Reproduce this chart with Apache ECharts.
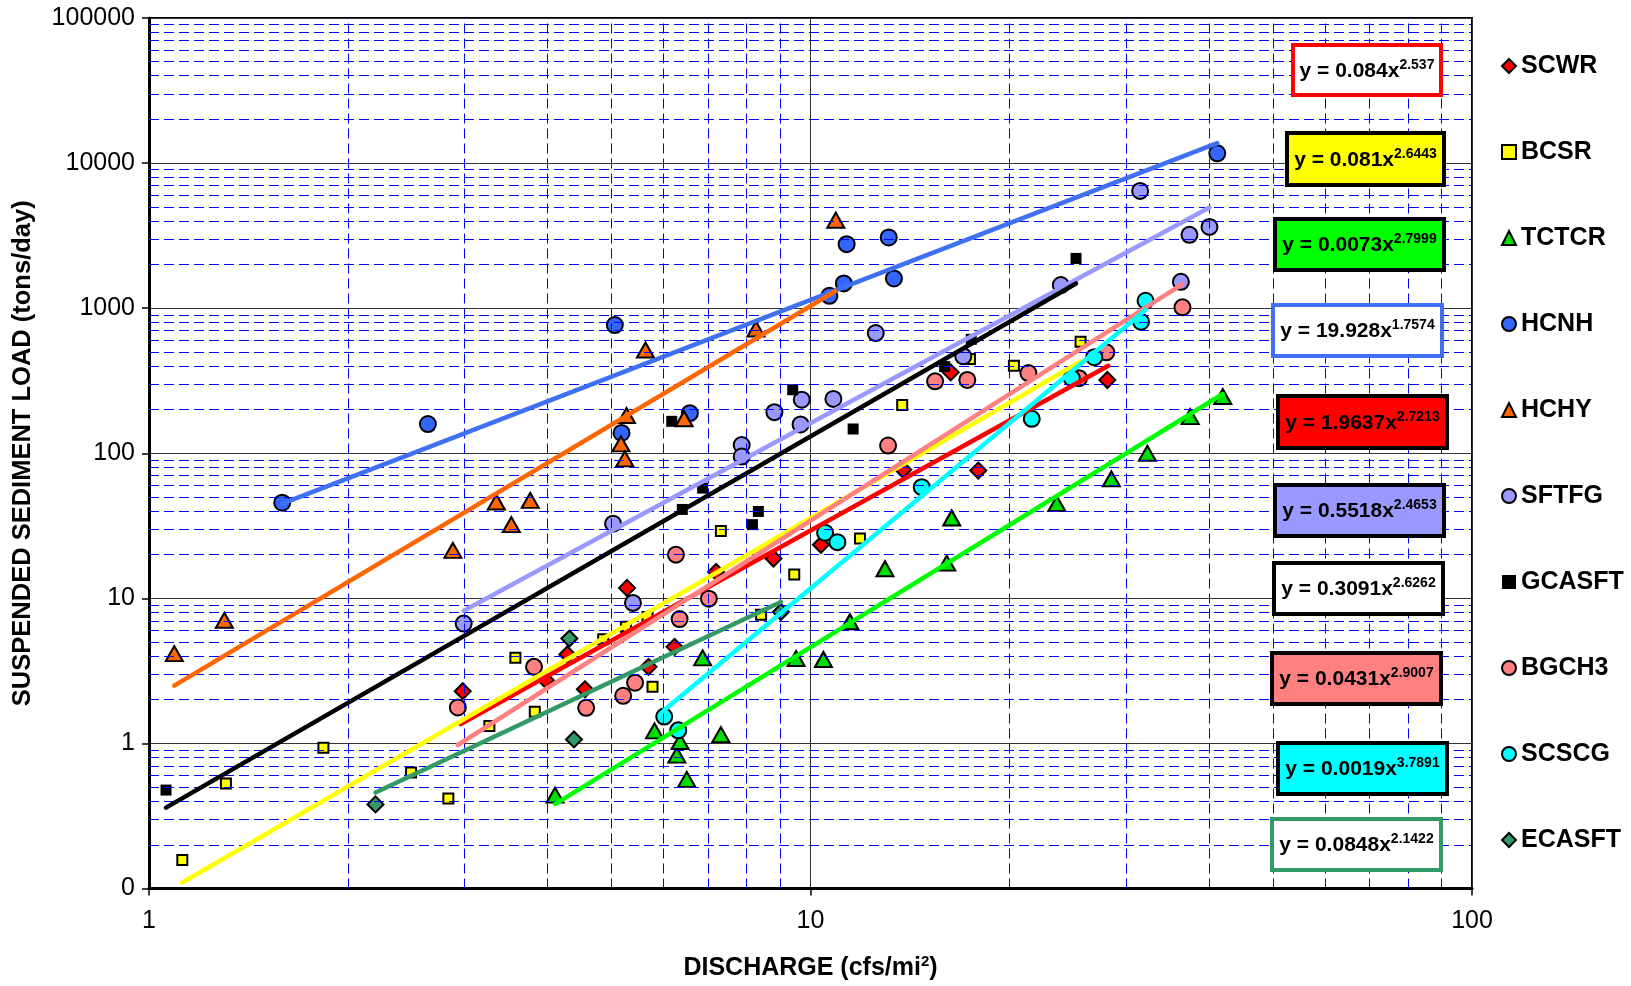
<!DOCTYPE html>
<html><head><meta charset="utf-8">
<script src="https://cdn.jsdelivr.net/npm/echarts@6/dist/echarts.min.js"></script>
<style>html,body{margin:0;padding:0;background:#fff}#c{width:1631px;height:986px}</style>
</head><body><div id="c"></div>
<script>
// ---------- data ----------
const seriesNames = ['SCWR','BCSR','TCTCR','HCNH','HCHY','SFTFG','GCASFT','BGCH3','SCSCG','ECASFT'];

const SCWR = [[2.98,2.29],[3.98,2.73],[4.29,4.10],[4.56,2.36],[5.28,11.8],[5.69,3.37],[6.23,4.63],[7.20,15.2],[8.79,18.8],[10.37,23.4],[13.81,77],[16.29,361],[17.93,76],[28.1,320]];
const BCSR = [[1.123,0.157],[1.307,0.53],[1.835,0.934],[2.49,0.63],[2.835,0.418],[3.27,1.32],[3.58,3.89],[3.83,1.65],[4.86,5.22],[5.26,6.36],[5.67,7.45],[5.77,2.46],[7.32,29.1],[8.42,7.72],[9.45,14.6],[11.88,25.8],[13.76,215],[17.42,446],[20.3,401],[25.6,587]];
const TCTCR = [[4.11,0.44],[5.81,1.22],[6.28,0.83],[6.35,1.03],[6.50,0.565],[6.87,3.89],[7.32,1.15],[9.51,3.85],[10.46,3.79],[11.47,6.9],[12.96,16.0],[16.07,17.5],[16.35,35.8],[23.57,45],[28.5,66.6],[32.3,100],[37.5,179],[42.0,246]];
const HCNH = [[1.59,45.6],[2.64,159],[5.06,765],[5.18,138],[6.57,189],[10.68,1217],[11.23,1481],[11.34,2762],[13.13,3071],[13.37,1603],[41.2,11680]];
const HCHY = [[1.092,4.16],[1.30,7.06],[2.88,21.4],[3.35,46.1],[3.53,32.2],[3.77,47.3],[5.17,116],[5.24,91.5],[5.27,182],[5.63,515],[6.44,173],[8.27,718],[10.92,4040]];
const SFTFG = [[2.99,6.7],[5.03,32.7],[5.39,9.3],[7.87,114],[7.87,94.9],[8.82,192],[9.66,158],[9.70,234],[10.83,237],[12.55,674],[17.02,466],[23.9,1443],[31.5,6430],[36.3,1519],[37.4,3201],[40.1,3633]];
const GCASFT = [[1.061,0.477],[6.17,166],[6.40,41.0],[6.87,57.5],[8.17,32.2],[8.34,39.7],[9.40,274],[11.6,147],[15.95,396],[17.5,610],[25.2,2202]];
const BGCH3 = [[2.93,1.77],[3.82,3.37],[4.58,1.76],[5.21,2.13],[5.43,2.62],[6.26,20.0],[6.34,7.2],[7.02,9.95],[13.1,113],[15.43,313],[17.26,320],[21.35,357],[25.46,329],[28.0,496],[36.5,1013]];
const SCSCG = [[6.01,1.53],[6.31,1.23],[10.52,28.3],[10.98,24.4],[14.73,58.4],[21.6,172.6],[24.83,329],[26.85,459],[31.6,806],[32.1,1125]];
const ECASFT = [[2.20,0.38],[4.32,5.28],[4.39,1.065],[9.02,8.06]];

// power-law trend lines (end points)
const fitSCWR = [[2.96,1.36],[28.2,401]];
const fitBCSR = [[1.123,0.110],[25.6,429]];
const fitTCTCR = [[4.11,0.382],[42.0,256]];
const fitHCNH = [[1.59,45.0],[41.2,13720]];
const fitHCHY = [[1.092,2.50],[10.9,1307]];
const fitSFTFG = [[2.99,8.21],[40.1,4941]];
const fitGCASFT = [[1.061,0.361],[25.2,1480]];
const fitBGCH3 = [[2.93,0.975],[36.5,1466]];
const fitSCSCG = [[6.01,1.70],[32.1,970]];
const fitECASFT = [[2.20,0.459],[9.02,9.43]];

// equation texts: [coefficient, exponent]
const eqCoef = ['0.084','0.081','0.0073','19.928','1.9637','0.5518','0.3091','0.0431','0.0019','0.0848'];
const eqExp  = ['2.537','2.6443','2.7999','1.7574','2.7213','2.4653','2.6262','2.9007','3.7891','2.1422'];

// axis ticks / grid
const xRange = [1, 100];
const yRange = [0.1, 100000];
const xDecades = [1, 10];
const yDecades = [0.1, 1, 10, 100, 1000, 10000];
const minorSteps = [2,3,4,5,6,7,8,9];

// ---------- styles ----------
const FONT = '"Liberation Sans", Arial, sans-serif';
const scatterData = [SCWR,BCSR,TCTCR,HCNH,HCHY,SFTFG,GCASFT,BGCH3,SCSCG,ECASFT];
const fitData = [fitSCWR,fitBCSR,fitTCTCR,fitHCNH,fitHCHY,fitSFTFG,fitGCASFT,fitBGCH3,fitSCSCG,fitECASFT];
const markStyle = [
  {symbol:'diamond', size:16, fill:'#FF0000', bw:2},
  {symbol:'rect', size:10, fill:'#FFFF00', bw:2},
  {symbol:'triangle', size:[17,15], fill:'#00DD00', bw:2},
  {symbol:'circle', size:16, fill:'#3366FF', bw:2},
  {symbol:'triangle', size:[17,15], fill:'#FF6600', bw:2},
  {symbol:'circle', size:16, fill:'#9999FF', bw:2},
  {symbol:'rect', size:11, fill:'#000000', bw:0},
  {symbol:'circle', size:16, fill:'#FF8080', bw:2},
  {symbol:'circle', size:16, fill:'#00FFFF', bw:2},
  {symbol:'diamond', size:16, fill:'#339966', bw:2}
];
const lineColor = ['#FF0000','#FFFF00','#00FF00','#3F6FF2','#FF6600','#9999FF','#000000','#FF8080','#00FFFF','#339966'];
const boxLayout = [
  {x:1291,y:43,w:152,h:54,fill:'#FFFFFF',stroke:'#FF0000'},
  {x:1285,y:131,w:161,h:56,fill:'#FFFF00',stroke:'#000000'},
  {x:1273,y:217,w:173,h:55,fill:'#00FF00',stroke:'#000000'},
  {x:1271,y:303,w:173,h:55,fill:'#FFFFFF',stroke:'#3F6FF2'},
  {x:1276,y:394,w:173,h:56,fill:'#FF0000',stroke:'#000000'},
  {x:1273,y:483,w:173,h:55,fill:'#9999FF',stroke:'#000000'},
  {x:1272,y:561,w:173,h:55,fill:'#FFFFFF',stroke:'#000000'},
  {x:1270,y:651,w:173,h:55,fill:'#FF8080',stroke:'#000000'},
  {x:1276,y:741,w:173,h:55,fill:'#00FFFF',stroke:'#000000'},
  {x:1270,y:817,w:173,h:55,fill:'#FFFFFF',stroke:'#339966'}
];

// ---------- build ----------
const minorY = [];
yDecades.forEach(d => minorSteps.forEach(m => minorY.push({yAxis: d*m})));
const minorX = [];
xDecades.forEach(d => minorSteps.forEach(m => minorX.push({xAxis: d*m})));

const series = [];
series.push({
  name: 'minorGrid', type: 'scatter', data: [], silent: true, z: 1,
  markLine: {
    silent: true, symbol: 'none', animation: false,
    label: {show: false}, emphasis: {disabled: true},
    lineStyle: {color: '#0000FF', width: 1, type: [10, 5]},
    data: minorY.concat(minorX)
  }
});
seriesNames.forEach((n, i) => {
  const s = markStyle[i];
  series.push({
    name: n, type: 'scatter', data: scatterData[i], z: 3,
    symbol: s.symbol, symbolSize: s.size,
    itemStyle: {color: s.fill, borderColor: '#000', borderWidth: s.bw, opacity: 1},
    emphasis: {disabled: true}
  });
});
seriesNames.forEach((n, i) => {
  series.push({
    name: n + ' fit', type: 'line', data: fitData[i], z: 5, silent: true,
    symbol: 'none', showSymbol: false,
    lineStyle: {color: lineColor[i], width: 4.5, cap: 'round'},
    emphasis: {disabled: true}
  });
});

const graphics = [];
boxLayout.forEach((b, i) => {
  graphics.push({
    type: 'rect', z: 100,
    shape: {x: b.x + 2, y: b.y + 2, width: b.w - 4, height: b.h - 4},
    style: {fill: b.fill, stroke: b.stroke, lineWidth: 4}
  });
  graphics.push({
    type: 'text', z: 101,
    x: b.x + b.w / 2, y: b.y + b.h / 2 + 1,
    style: {
      text: '{m|y = ' + eqCoef[i] + 'x}{s|' + eqExp[i] + '}',
      align: 'center', verticalAlign: 'middle',
      rich: {
        m: {fontSize: 21, fontWeight: 'bold', fontFamily: FONT, fill: '#000', lineHeight: 26},
        s: {fontSize: 14, fontWeight: 'bold', fontFamily: FONT, fill: '#000', lineHeight: 10, verticalAlign: 'top'}
      }
    }
  });
});

const option = {
  animation: false,
  backgroundColor: '#fff',
  textStyle: {fontFamily: FONT},
  grid: {left: 149, top: 18, right: 159, bottom: 96, show: true, borderColor: '#000', borderWidth: 2},
  legend: {
    data: seriesNames, orient: 'vertical', left: 1496, top: 48.5,
    itemWidth: 14, itemHeight: 14, itemGap: 61, selectedMode: false,
    textStyle: {fontSize: 25, fontWeight: 'bold', color: '#000', fontFamily: FONT, lineHeight: 24}
  },
  xAxis: {
    type: 'log', logBase: 10, min: xRange[0], max: xRange[1],
    name: '{b|DISCHARGE (cfs/mi}{s|2}{b|)}', nameLocation: 'middle', nameGap: 66,
    nameTextStyle: {rich: {
      b: {fontSize: 25, fontWeight: 'bold', fontFamily: FONT, color: '#000', lineHeight: 28},
      s: {fontSize: 15, fontWeight: 'bold', fontFamily: FONT, color: '#000', lineHeight: 14, verticalAlign: 'top'}
    }},
    axisLine: {show: true, onZero: false, lineStyle: {color: '#000', width: 3}},
    axisTick: {show: true, length: 7, lineStyle: {color: '#000', width: 1.5}},
    axisLabel: {fontSize: 25, color: '#000', margin: 20, fontFamily: FONT},
    splitLine: {show: true, lineStyle: {color: '#333', width: 1}},
    minorTick: {show: false}, minorSplitLine: {show: false}
  },
  yAxis: {
    type: 'log', logBase: 10, min: yRange[0], max: yRange[1],
    name: 'SUSPENDED SEDIMENT LOAD (tons/day)', nameLocation: 'middle', nameGap: 113,
    nameTextStyle: {fontSize: 25.5, fontWeight: 'bold', color: '#000', fontFamily: FONT},
    axisLine: {show: true, onZero: false, lineStyle: {color: '#000', width: 3}},
    axisTick: {show: true, length: 7, lineStyle: {color: '#000', width: 1.5}},
    axisLabel: {fontSize: 25, color: '#000', margin: 14, fontFamily: FONT,
      formatter: v => (v < 1 ? '0' : String(Math.round(v)))},
    splitLine: {show: true, lineStyle: {color: '#333', width: 1}},
    minorTick: {show: false}, minorSplitLine: {show: false}
  },
  series: series,
  graphic: graphics
};

const chart = echarts.init(document.getElementById('c'), null, {renderer: 'canvas'});
chart.setOption(option);
</script>
</body></html>
